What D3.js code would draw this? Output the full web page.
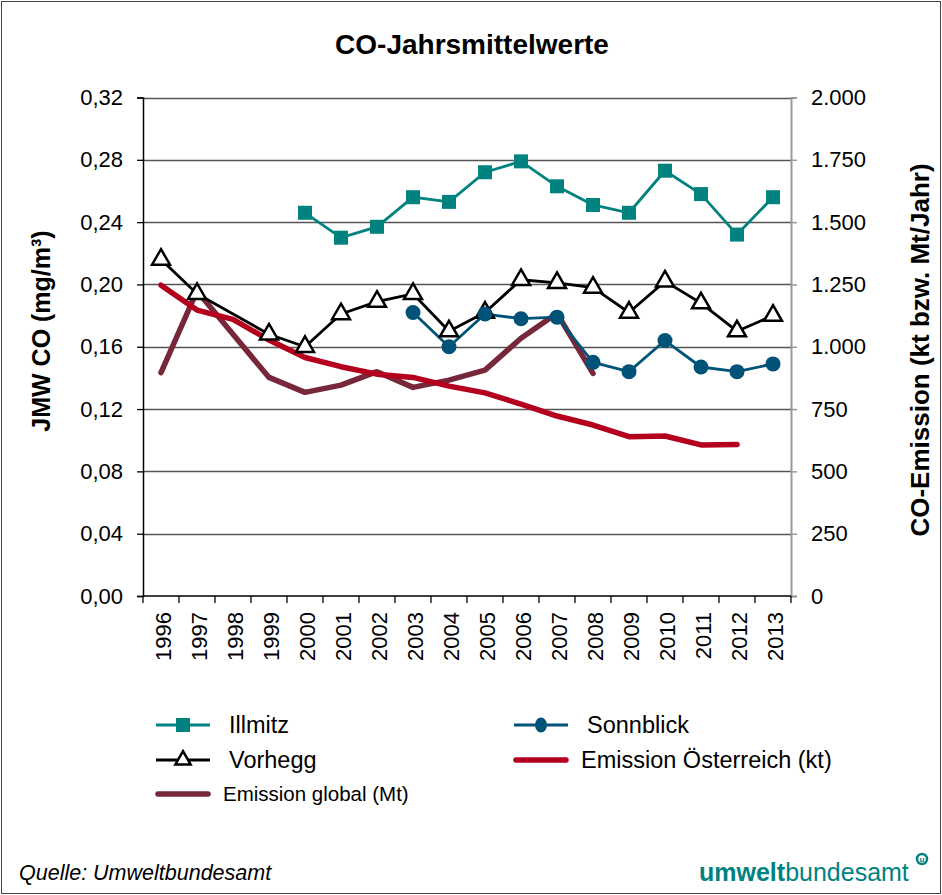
<!DOCTYPE html>
<html>
<head>
<meta charset="utf-8">
<script src="https://cdn.jsdelivr.net/npm/d3@7"></script>
<style>
  body { margin: 0; background: #fff; }
  svg text { font-family: Arial, "Liberation Sans", sans-serif; }
</style>
</head>
<body>
<div id="svg-container"></div>
<script>
// Data
const years = [1996, 1997, 1998, 1999, 2000, 2001, 2002, 2003, 2004, 2005, 2006, 2007, 2008, 2009, 2010, 2011, 2012, 2013];
const illmitz = [null, null, null, null, 0.246, 0.230, 0.237, 0.256, 0.253, 0.272, 0.279, 0.263, 0.251, 0.246, 0.273, 0.258, 0.232, 0.256];
const vorhegg = [0.216, 0.194, null, 0.168, 0.160, 0.181, 0.189, 0.194, 0.170, 0.182, 0.203, 0.201, 0.198, 0.182, 0.202, 0.188, 0.170, 0.180];
const sonnblick = [null, null, null, null, null, null, null, 0.182, 0.160, 0.181, 0.178, 0.179, 0.150, 0.144, 0.164, 0.147, 0.144, 0.149];
const emissionAT = [1247, 1147, 1110, 1027, 957, 920, 890, 877, 842, 815, 770, 722, 686, 639, 642, 606, 608, null];
const emissionGlobal = [896, 1224, 1050, 877, 817, 846, 900, 837, 866, 906, 1034, 1134, 893, null, null, null, null, null];
const leftTicks = [0, 0.04, 0.08, 0.12, 0.16, 0.20, 0.24, 0.28, 0.32];
const rightTicks = [0, 250, 500, 750, 1000, 1250, 1500, 1750, 2000];

const width = 942, height = 895;
const plot = { left: 143, right: 791, top: 97.5, bottom: 596 };

const svg = d3.select("#svg-container")
    .append("svg")
    .attr("width", width)
    .attr("height", height);

// outer frame
svg.append("rect")
    .attr("x", 1.5).attr("y", 1.5)
    .attr("width", width - 3).attr("height", height - 3)
    .attr("fill", "none")
    .attr("stroke", "#444")
    .attr("stroke-width", 1);

const x = d3.scaleBand()
    .domain(years)
    .range([plot.left, plot.right]);

const yLeft = d3.scaleLinear()
    .domain([0, 0.32])
    .range([plot.bottom, plot.top]);

const yRight = d3.scaleLinear()
    .domain([0, 2000])
    .range([plot.bottom, plot.top]);

const cx = d => x(d) + x.bandwidth() / 2;

// gridlines
svg.append("g")
    .selectAll("line")
    .data(leftTicks.slice(1))
    .enter()
    .append("line")
    .attr("x1", plot.left)
    .attr("x2", plot.right)
    .attr("y1", d => Math.round(yLeft(d)) + 0.5)
    .attr("y2", d => Math.round(yLeft(d)) + 0.5)
    .attr("stroke", "#555")
    .attr("stroke-width", 1.3);

// left axis
const leftAxis = svg.append("g")
    .attr("transform", `translate(${plot.left},0)`)
    .call(d3.axisLeft(yLeft).tickValues(leftTicks).tickSize(6).tickPadding(14)
        .tickFormat(d => d3.format(".2f")(d).replace(".", ",")));
leftAxis.select(".domain").attr("stroke", "#000").attr("stroke-width", 1.5);
leftAxis.selectAll(".tick line").attr("stroke", "#000").attr("stroke-width", 1.3);
leftAxis.selectAll("text")
    .attr("font-size", "22px")
    .attr("fill", "#000");

// right axis
const rightAxis = svg.append("g")
    .attr("transform", `translate(${plot.right},0)`)
    .call(d3.axisRight(yRight).tickValues(rightTicks).tickSize(6).tickPadding(14)
        .tickFormat(d => d3.format(",")(d).replace(",", ".")));
rightAxis.select(".domain").attr("stroke", "#999").attr("stroke-width", 2);
rightAxis.selectAll(".tick line").attr("stroke", "#999").attr("stroke-width", 1.5);
rightAxis.selectAll("text")
    .attr("font-size", "22px")
    .attr("fill", "#000");

// bottom axis with ticks at band boundaries
const bottom = svg.append("g")
    .attr("transform", `translate(0,${plot.bottom})`);
bottom.append("line")
    .attr("x1", plot.left).attr("x2", plot.right)
    .attr("y1", 0).attr("y2", 0)
    .attr("stroke", "#000").attr("stroke-width", 1.5);
bottom.selectAll("line.tk")
    .data(years.concat([null]))
    .enter()
    .append("line")
    .attr("class", "tk")
    .attr("x1", (d, i) => plot.left + i * x.bandwidth())
    .attr("x2", (d, i) => plot.left + i * x.bandwidth())
    .attr("y1", 0).attr("y2", 7)
    .attr("stroke", "#000").attr("stroke-width", 1.3);
bottom.selectAll("text")
    .data(years)
    .enter()
    .append("text")
    .attr("transform", d => `translate(${cx(d) + 10},16) rotate(-90)`)
    .attr("text-anchor", "end")
    .attr("font-size", "22px")
    .attr("fill", "#000")
    .text(d => d);

// series lines
function drawLine(values, scale, color, widthPx) {
    const pts = years.map((yr, i) => ({ yr, v: values[i] })).filter(d => d.v != null);
    const line = d3.line()
        .x(d => cx(d.yr))
        .y(d => scale(d.v));
    svg.append("path")
        .datum(pts)
        .attr("d", line)
        .attr("fill", "none")
        .attr("stroke", color)
        .attr("stroke-width", widthPx)
        .attr("stroke-linejoin", "round")
        .attr("stroke-linecap", "round");
    return pts;
}

const teal = "#00827f";
const blue = "#005378";
const red = "#b4001e";
const maroon = "#76283a";

drawLine(emissionGlobal, yRight, maroon, 5.5);
drawLine(emissionAT, yRight, red, 5.5);

const vPts = drawLine(vorhegg, yLeft, "#000", 2.8);
const sPts = drawLine(sonnblick, yLeft, blue, 2.8);
const iPts = drawLine(illmitz, yLeft, teal, 2.8);

const triangle = d3.symbol().type(d3.symbolTriangle).size(140);

svg.append("g").selectAll("path")
    .data(vPts)
    .enter()
    .append("path")
    .attr("d", triangle)
    .attr("transform", d => `translate(${cx(d.yr)},${yLeft(d.v)})`)
    .attr("fill", "#fff")
    .attr("stroke", "#000")
    .attr("stroke-width", 2.5);

svg.append("g").selectAll("circle")
    .data(sPts)
    .enter()
    .append("circle")
    .attr("cx", d => cx(d.yr))
    .attr("cy", d => yLeft(d.v))
    .attr("r", 7.5)
    .attr("fill", blue);

svg.append("g").selectAll("rect")
    .data(iPts)
    .enter()
    .append("rect")
    .attr("x", d => cx(d.yr) - 7)
    .attr("y", d => yLeft(d.v) - 7)
    .attr("width", 14)
    .attr("height", 14)
    .attr("fill", teal);

// title and axis labels
svg.append("text")
    .attr("x", 472).attr("y", 54)
    .attr("text-anchor", "middle")
    .attr("font-size", "28px")
    .attr("font-weight", "bold")
    .text("CO-Jahrsmittelwerte");

svg.append("text")
    .attr("transform", "translate(50,331) rotate(-90)")
    .attr("text-anchor", "middle")
    .attr("font-size", "25px")
    .attr("font-weight", "bold")
    .text("JMW CO (mg/m³)");

svg.append("text")
    .attr("transform", "translate(929,350) rotate(-90)")
    .attr("text-anchor", "middle")
    .attr("font-size", "26px")
    .attr("font-weight", "bold")
    .text("CO-Emission (kt bzw. Mt/Jahr)");

// legend
const legendItems = [
    { label: "Illmitz", color: teal, marker: "square", lw: 2.8, x: 156, y: 725, fs: 23.5 },
    { label: "Sonnblick", color: blue, marker: "circle", lw: 2.8, x: 514, y: 725, fs: 23.5 },
    { label: "Vorhegg", color: "#000", marker: "triangle", lw: 2.8, x: 156, y: 760, fs: 23.5 },
    { label: "Emission Österreich (kt)", color: red, marker: null, lw: 5.5, x: 514, y: 760, fs: 23.5 },
    { label: "Emission global (Mt)", color: maroon, marker: null, lw: 5.5, x: 156, y: 794, fs: 20.5 }
];

const lg = svg.append("g")
    .selectAll("g")
    .data(legendItems)
    .enter()
    .append("g")
    .attr("transform", d => `translate(${d.x},${d.y})`);

lg.append("line")
    .attr("x1", d => d.marker ? 0 : 2).attr("x2", d => d.marker ? 54 : 52)
    .attr("stroke", d => d.color)
    .attr("stroke-width", d => d.lw)
    .attr("stroke-linecap", d => d.marker ? "butt" : "round");

lg.each(function(d) {
    const g = d3.select(this);
    if (d.marker === "square") {
        g.append("rect").attr("x", 20).attr("y", -7).attr("width", 14).attr("height", 14).attr("fill", d.color);
    } else if (d.marker === "circle") {
        g.append("ellipse").attr("cx", 27).attr("cy", 0).attr("rx", 6).attr("ry", 7.5).attr("fill", d.color);
    } else if (d.marker === "triangle") {
        g.append("path").attr("d", d3.symbol().type(d3.symbolTriangle).size(100))
            .attr("transform", "translate(27,0)")
            .attr("fill", "#fff").attr("stroke", "#000").attr("stroke-width", 2.5);
    }
});

lg.append("text")
    .attr("x", d => d.marker ? 73 : 67)
    .attr("y", d => d.fs * 0.36)
    .attr("font-size", d => d.fs + "px")
    .attr("fill", "#000")
    .text(d => d.label);

// footer
svg.append("text")
    .attr("x", 19).attr("y", 880)
    .attr("font-size", "21.5px")
    .attr("font-style", "italic")
    .text("Quelle: Umweltbundesamt");

const logo = svg.append("text")
    .attr("x", 699).attr("y", 881)
    .attr("font-size", "25px")
    .attr("fill", "#00827f");
logo.append("tspan").attr("font-weight", "bold").text("umwelt");
logo.append("tspan").text("bundesamt");

svg.append("circle")
    .attr("cx", 922).attr("cy", 859)
    .attr("r", 5)
    .attr("fill", "none")
    .attr("stroke", "#00827f")
    .attr("stroke-width", 2.5);
svg.append("text")
    .attr("x", 922).attr("y", 862)
    .attr("text-anchor", "middle")
    .attr("font-size", "8px")
    .attr("font-weight", "bold")
    .attr("fill", "#00827f")
    .text("u");
</script>
</body>
</html>
